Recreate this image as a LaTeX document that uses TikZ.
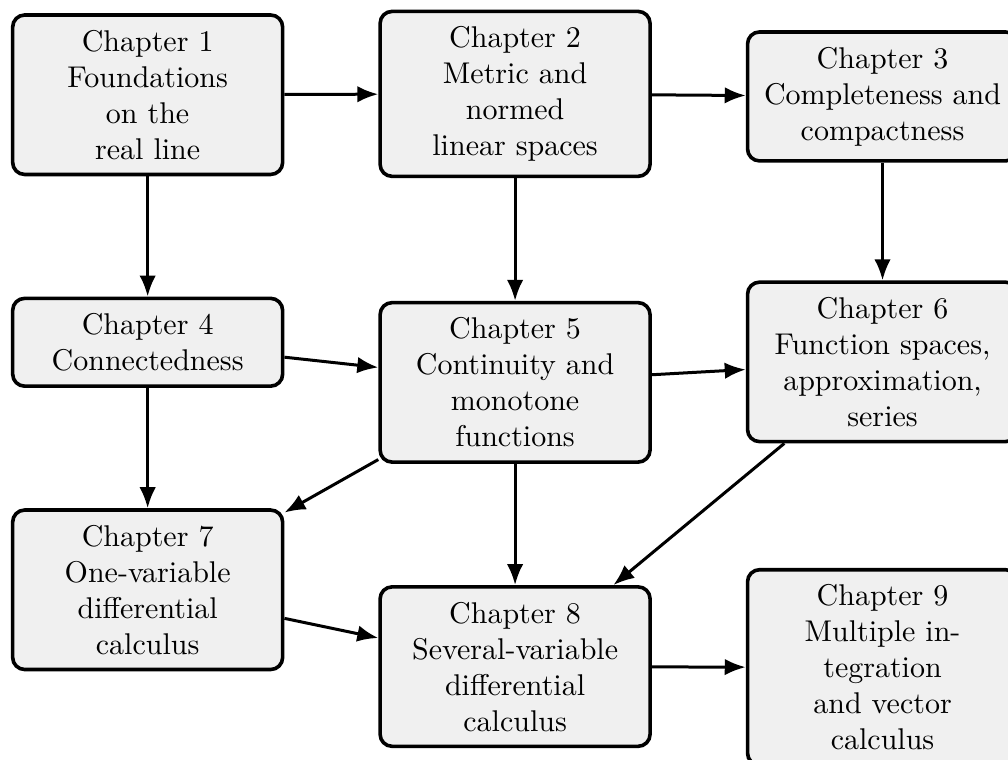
\documentclass[tikz,border=0pt]{standalone}
\usepackage{tikz}
\usetikzlibrary{arrows.meta}

\begin{document}
\begin{tikzpicture}[chap/.style={draw, very thick, rounded corners=4pt, fill=gray!12,
                      text width=80pt, align=center, inner sep=5pt},
                    link/.style={line width=1pt, -{Latex[length=7pt, width=5.5pt]}}]
\useasboundingbox (-1.73,-7.79) rectangle (10.08,1.11);

\node[chap] (C1) at (0,0) {Chapter 1\\ Foundations\\ on the\\ real line};
\node[chap] (C2) at (4.305,0.01) {Chapter 2\\ Metric and\\ normed\\ linear spaces};
\node[chap] (C3) at (8.61,-0.02) {Chapter 3\\ Completeness and\\ compactness};

\node[chap] (C4) at (0,-2.9) {Chapter 4\\ Connectedness};
\node[chap] (C5) at (4.305,-3.37) {Chapter 5\\ Continuity and\\ monotone\\ functions};
\node[chap] (C6) at (8.61,-3.13) {Chapter 6\\ Function spaces,\\ approximation,\\ series};

\node[chap] (C7) at (0,-5.8) {Chapter 7\\ One-variable\\ differential\\ calculus};
\node[chap] (C8) at (4.305,-6.7) {Chapter 8\\ Several-variable\\ differential\\ calculus};
\node[chap] (C9) at (8.61,-6.71) {Chapter 9\\ Multiple in-\\tegration\\ and vector\\ calculus};

\draw[link] (C1) -- (C2);
\draw[link] (C2) -- (C3);
\draw[link] (C1) -- (C4);
\draw[link] (C2) -- (C5);
\draw[link] (C3) -- (C6);
\draw[link] (C4) -- (C5);
\draw[link] (C5) -- (C6);
\draw[link] (C4) -- (C7);
\draw[link] (C5) -- (C7);
\draw[link] (C5) -- (C8);
\draw[link] (C6) -- (C8);
\draw[link] (C7) -- (C8);
\draw[link] (C8) -- (C9);
\end{tikzpicture}
\end{document}
